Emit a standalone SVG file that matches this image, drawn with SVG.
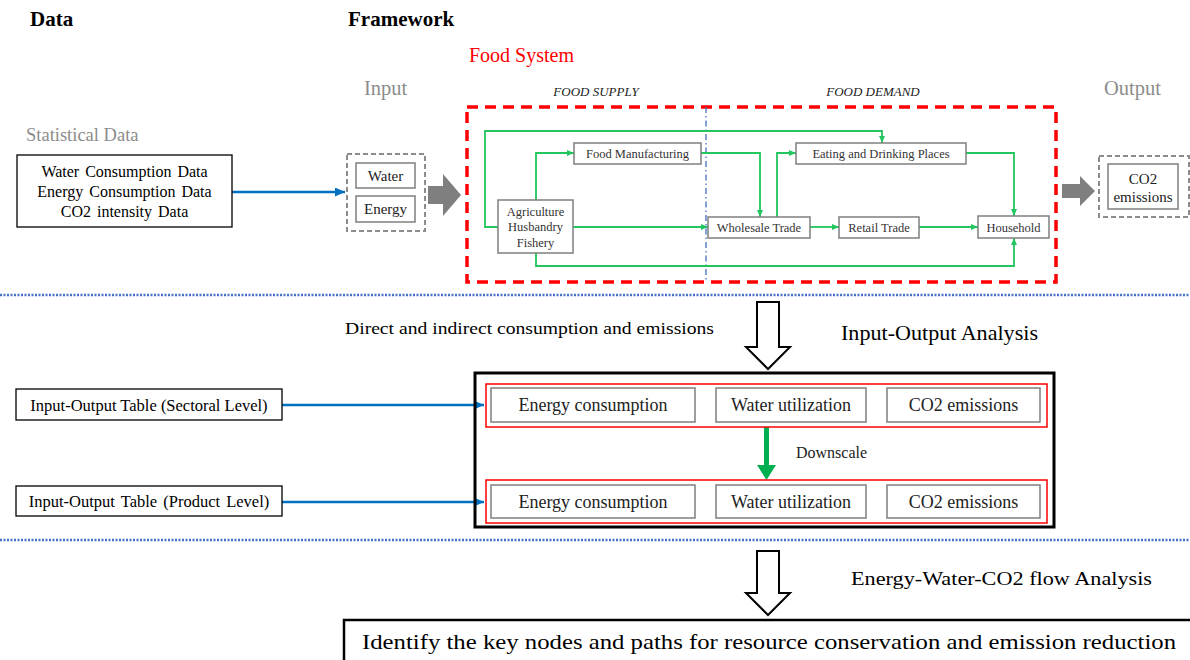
<svg xmlns="http://www.w3.org/2000/svg" width="1190" height="660" viewBox="0 0 1190 660" font-family="'Liberation Serif', 'Times New Roman', serif">
<style>
text{font-family:'Liberation Serif','Times New Roman',serif;fill:#000}
.title{font-size:21px;font-weight:bold}
.gray{fill:#8c8c8c}
.node{fill:#fff;stroke:#7f7f7f;stroke-width:1.5}
.nt{font-size:12.5px;fill:#333;text-anchor:middle}
.box{fill:#fff;stroke:#000;stroke-width:1.3}
.gbox{fill:#fff;stroke:#7f7f7f;stroke-width:1.5}
.gdash{fill:none;stroke:#8c8c8c;stroke-width:2;stroke-dasharray:5 3}
.green{fill:none;stroke:#22c55e;stroke-width:1.8;marker-end:url(#ga)}
.blue{fill:none;stroke:#0070C0;stroke-width:2.5;marker-end:url(#ba)}
.dot{stroke:#4472C4;stroke-width:2.5;stroke-dasharray:2 1.5}
.rowbox{fill:none;stroke:#ff0000;stroke-width:1.5}
.rt{font-size:18px;text-anchor:middle;fill:#222}
</style>
<defs>
<marker id="ga" markerUnits="userSpaceOnUse" markerWidth="7" markerHeight="6" refX="7" refY="3" orient="auto"><path d="M0,0 L7,3 L0,6 z" fill="#22c55e"/></marker>
<marker id="ba" markerUnits="userSpaceOnUse" markerWidth="10" markerHeight="9" refX="10" refY="4.5" orient="auto"><path d="M0,0 L10,4.5 L0,9 z" fill="#0070C0"/></marker>
</defs>
<rect width="1190" height="660" fill="#fff"/>

<g id="titles">
<text class="title" x="30" y="26">Data</text>
<text class="title" x="348" y="26">Framework</text>
<text x="469" y="62" font-size="20" style="fill:#ff0000">Food System</text>
<text class="gray" x="364" y="95" font-size="20.5">Input</text>
<text class="gray" x="1104" y="95" font-size="20.5">Output</text>
<text x="596" y="96" font-size="13" font-style="italic" text-anchor="middle" style="fill:#222">FOOD SUPPLY</text>
<text x="873" y="96" font-size="13" font-style="italic" text-anchor="middle" style="fill:#222">FOOD DEMAND</text>
<text class="gray" x="26" y="141" font-size="18.5">Statistical Data</text>
</g>

<g id="food-system-frame">
<rect x="467" y="107" width="589" height="175" fill="none" stroke="#ff0000" stroke-width="3.5" stroke-dasharray="11 7"/>
<line x1="706" y1="107" x2="706" y2="282" stroke="#4472C4" stroke-width="1.3" stroke-dasharray="6 3 1.5 3"/>
</g>

<g id="dividers">
<line class="dot" x1="0" y1="295" x2="1190" y2="295"/>
<line class="dot" x1="0" y1="540" x2="1190" y2="540"/>
</g>

<g id="connectors">
<line class="blue" x1="232" y1="192" x2="345" y2="192"/>
<line class="blue" x1="282" y1="405" x2="484" y2="405"/>
<line class="blue" x1="282" y1="502" x2="484" y2="502"/>
<polyline class="green" points="498,227 485,227 485,131 882,131 882,143"/>
<polyline class="green" points="536,200 536,153 574,153"/>
<polyline class="green" points="573,227 708,227"/>
<polyline class="green" points="536,253 536,266 1014,266 1014,238"/>
<polyline class="green" points="701,153 760,153 760,217"/>
<polyline class="green" points="777,217 777,153 796,153"/>
<polyline class="green" points="810,227 839,227"/>
<polyline class="green" points="919,227 978,227"/>
<polyline class="green" points="966,153 1014,153 1014,216"/>
<polygon points="428,186 443,186 443,174 461,195 443,216 443,204 428,204" fill="#7f7f7f"/>
<polygon points="1062,184 1080,184 1080,176 1095,191 1080,206 1080,198 1062,198" fill="#7f7f7f"/>
<polygon points="757,302 779,302 779,347 790,347 768,369 746,347 757,347" fill="#fff" stroke="#000" stroke-width="2"/>
<polygon points="757,551 779,551 779,593 790,593 768,615 746,593 757,593" fill="#fff" stroke="#000" stroke-width="2"/>
<rect x="764" y="427" width="5" height="39" fill="#00B050"/>
<polygon points="757,465 776,465 766.5,480" fill="#00B050"/>
</g>

<g id="statistical-data">
<rect class="box" x="17" y="155" width="215" height="72"/>
<text x="124.5" y="177" font-size="16" text-anchor="middle" word-spacing="2">Water Consumption Data</text>
<text x="124.5" y="197" font-size="16" text-anchor="middle" word-spacing="2">Energy Consumption Data</text>
<text x="124.5" y="217" font-size="16" text-anchor="middle" word-spacing="2">CO2 intensity Data</text>
</g>

<g id="input">
<rect class="gdash" x="347" y="154" width="78" height="77"/>
<rect class="gbox" x="356" y="163" width="59" height="25"/>
<text x="385.5" y="181" font-size="15" text-anchor="middle" style="fill:#222">Water</text>
<rect class="gbox" x="356" y="196" width="59" height="26"/>
<text x="385.5" y="214" font-size="15" text-anchor="middle" style="fill:#222">Energy</text>
</g>

<g id="output">
<rect class="gdash" x="1099" y="156" width="90" height="61"/>
<rect class="gbox" x="1108" y="164" width="70" height="45"/>
<text x="1143" y="184" font-size="15" text-anchor="middle" style="fill:#222">CO2</text>
<text x="1143" y="202" font-size="15" text-anchor="middle" style="fill:#222">emissions</text>
</g>

<g id="agriculture">
<rect class="node" x="498" y="200" width="75" height="53"/>
<text class="nt" x="535.5" y="216">Agriculture</text>
<text class="nt" x="535.5" y="231">Husbandry</text>
<text class="nt" x="535.5" y="247">Fishery</text>
</g>
<g id="food-manufacturing">
<rect class="node" x="574" y="143" width="127" height="21"/>
<text class="nt" x="637.5" y="158">Food Manufacturing</text>
</g>
<g id="wholesale-trade">
<rect class="node" x="708" y="217" width="102" height="21"/>
<text class="nt" x="759" y="232">Wholesale Trade</text>
</g>
<g id="retail-trade">
<rect class="node" x="839" y="217" width="80" height="21"/>
<text class="nt" x="879" y="232">Retail Trade</text>
</g>
<g id="household">
<rect class="node" x="978" y="216" width="71" height="22"/>
<text class="nt" x="1013.5" y="231.5">Household</text>
</g>
<g id="eating-drinking">
<rect class="node" x="796" y="143" width="170" height="21"/>
<text class="nt" x="881" y="158">Eating and Drinking Places</text>
</g>

<g id="labels">
<text x="345" y="334" font-size="17" textLength="369" lengthAdjust="spacingAndGlyphs">Direct and indirect consumption and emissions</text>
<text x="841" y="340" font-size="21" textLength="197" lengthAdjust="spacingAndGlyphs">Input-Output Analysis</text>
<text x="796" y="458" font-size="16" style="fill:#222">Downscale</text>
<text x="851" y="585" font-size="19" textLength="301" lengthAdjust="spacingAndGlyphs">Energy-Water-CO2 flow Analysis</text>
</g>

<g id="io-sectoral">
<rect class="box" x="16" y="389" width="266" height="31"/>
<text x="149" y="411" font-size="16.5" text-anchor="middle">Input-Output Table (Sectoral Level)</text>
</g>
<g id="io-product">
<rect class="box" x="16" y="486" width="266" height="30"/>
<text x="149" y="507" font-size="16.5" text-anchor="middle" word-spacing="2">Input-Output Table (Product Level)</text>
</g>

<g id="io-analysis">
<rect x="475" y="373" width="579" height="154" fill="none" stroke="#000" stroke-width="3"/>
<rect class="rowbox" x="486" y="384" width="561" height="43"/>
<rect class="rowbox" x="486" y="480" width="561" height="43"/>
</g>
<g id="sector-energy"><rect class="gbox" x="491" y="388" width="204" height="34"/><text class="rt" x="593" y="411">Energy consumption</text></g>
<g id="sector-water"><rect class="gbox" x="716" y="388" width="150" height="34"/><text class="rt" x="791" y="411">Water utilization</text></g>
<g id="sector-co2"><rect class="gbox" x="887" y="388" width="153" height="34"/><text class="rt" x="963.5" y="411">CO2 emissions</text></g>
<g id="product-energy"><rect class="gbox" x="491" y="485" width="204" height="33"/><text class="rt" x="593" y="507.5">Energy consumption</text></g>
<g id="product-water"><rect class="gbox" x="716" y="485" width="150" height="33"/><text class="rt" x="791" y="507.5">Water utilization</text></g>
<g id="product-co2"><rect class="gbox" x="887" y="485" width="153" height="33"/><text class="rt" x="963.5" y="507.5">CO2 emissions</text></g>

<g id="result">
<rect x="344" y="620" width="850" height="42" fill="#fff" stroke="#000" stroke-width="2.5"/>
<text x="362" y="649" font-size="22" textLength="814" lengthAdjust="spacingAndGlyphs">Identify the key nodes and paths for resource conservation and emission reduction</text>
</g>
</svg>
